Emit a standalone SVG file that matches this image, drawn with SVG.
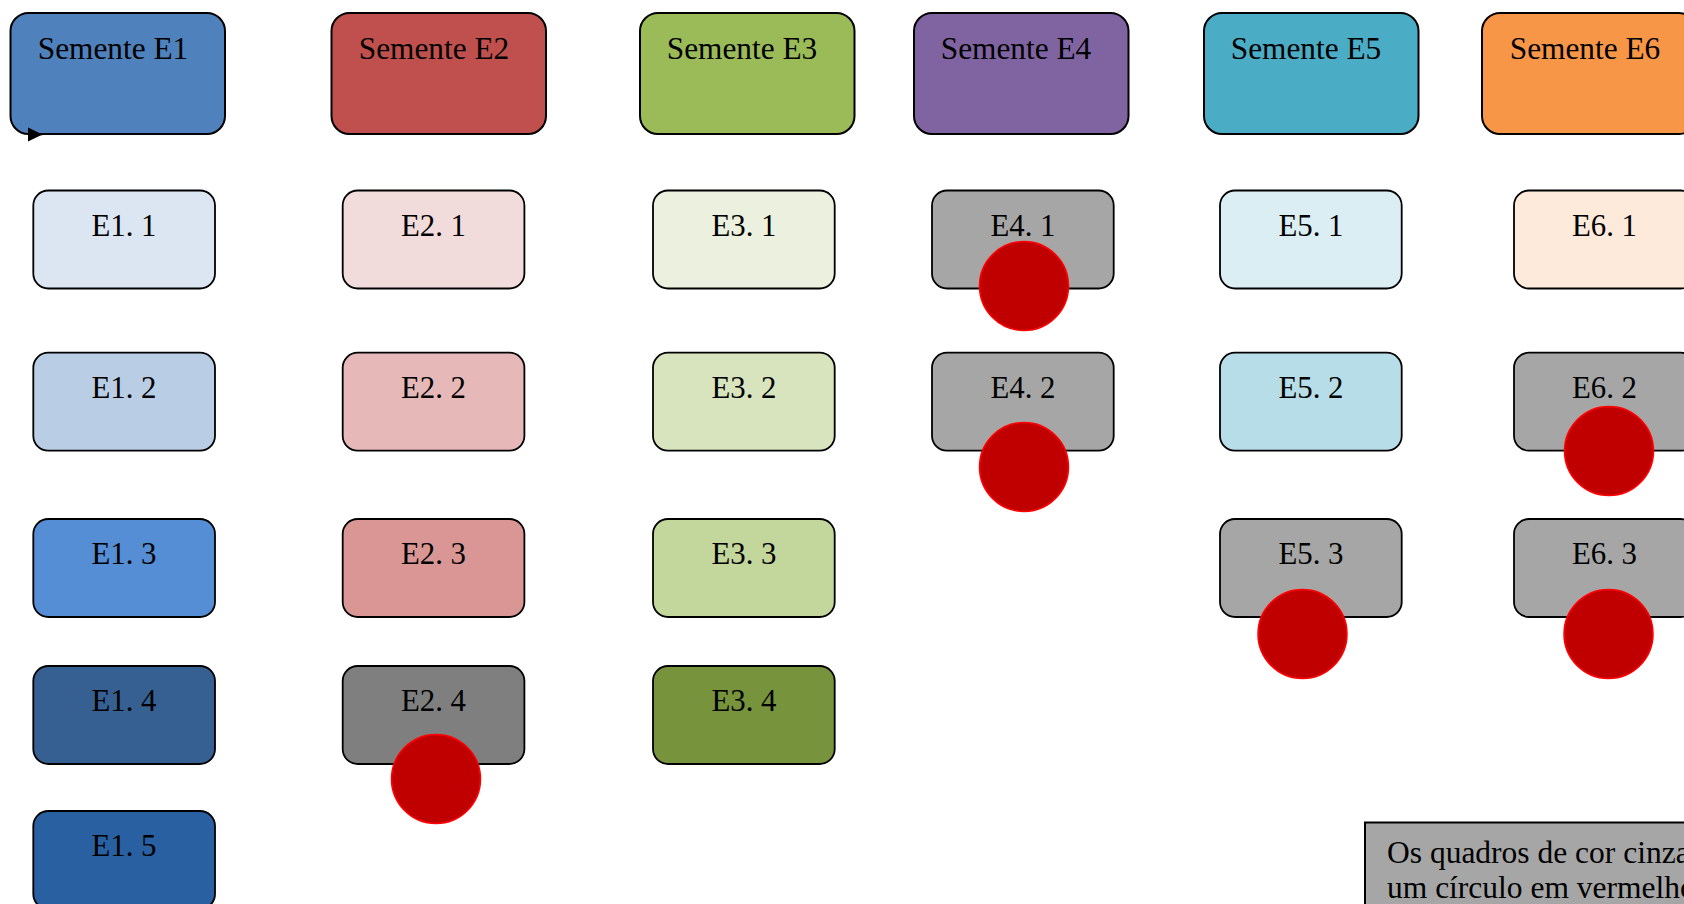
<svg xmlns="http://www.w3.org/2000/svg" width="1684" height="904" viewBox="0 0 1684 904">
  <style>
    .head { stroke: #000; stroke-width: 2; }
    .item { stroke: #000; stroke-width: 1.8; }
    .mark { fill: #C00000; stroke: #FF0000; stroke-width: 1.5; }
    .ht { font-family: "Liberation Serif", "Times New Roman", serif; font-size: 31.3px; fill: #000; text-anchor: middle; }
    .it { font-family: "Liberation Serif", "Times New Roman", serif; font-size: 30.8px; fill: #000; text-anchor: middle; }
    .note { font-family: "Liberation Serif", "Times New Roman", serif; font-size: 31.5px; fill: #000; }
    .conn { stroke: #000; stroke-width: 1.5; fill: none; }
  </style>
  <defs>
    <marker id="tri" markerUnits="userSpaceOnUse" markerWidth="16" markerHeight="16" refX="15" refY="7.25" orient="auto">
      <path d="M0,0 L15,7.25 L0,14.5 z" fill="#000"/>
    </marker>
  </defs>
  <rect width="1684" height="904" fill="#fff"/>

  <!-- seed headers -->
  <g id="semente-e1"><rect class="head" x="10.5" y="13" width="214.5" height="121" rx="18" fill="#4F81BD"/><text class="ht" x="113" y="59">Semente E1</text></g>
  <g id="semente-e2"><rect class="head" x="331.5" y="13" width="214.5" height="121" rx="18" fill="#C0504D"/><text class="ht" x="434" y="59">Semente E2</text></g>
  <g id="semente-e3"><rect class="head" x="640" y="13" width="214.5" height="121" rx="18" fill="#9BBB59"/><text class="ht" x="742" y="59">Semente E3</text></g>
  <g id="semente-e4"><rect class="head" x="914" y="13" width="214.5" height="121" rx="18" fill="#8064A2"/><text class="ht" x="1016" y="59">Semente E4</text></g>
  <g id="semente-e5"><rect class="head" x="1204" y="13" width="214.5" height="121" rx="18" fill="#4BACC6"/><text class="ht" x="1306" y="59">Semente E5</text></g>
  <g id="semente-e6"><rect class="head" x="1482" y="13" width="214.5" height="121" rx="18" fill="#F79646"/><text class="ht" x="1585" y="59">Semente E6</text></g>

  <!-- column E1 -->
  <g id="e1-1"><rect class="item" x="33.3" y="190.5" width="181.7" height="98" rx="15" fill="#DCE6F2"/><text class="it" x="124" y="235.5">E1. 1</text></g>
  <g id="e1-2"><rect class="item" x="33.3" y="352.7" width="181.7" height="98" rx="15" fill="#B9CDE5"/><text class="it" x="124" y="397.5">E1. 2</text></g>
  <g id="e1-3"><rect class="item" x="33.3" y="519" width="181.7" height="98" rx="15" fill="#558ED5"/><text class="it" x="124" y="564">E1. 3</text></g>
  <g id="e1-4"><rect class="item" x="33.3" y="666" width="181.7" height="98" rx="15" fill="#376092"/><text class="it" x="124" y="711">E1. 4</text></g>
  <g id="e1-5"><rect class="item" x="33.3" y="811" width="181.7" height="98" rx="15" fill="#2860A2"/><text class="it" x="124" y="856">E1. 5</text></g>

  <!-- column E2 -->
  <g id="e2-1"><rect class="item" x="342.7" y="190.5" width="181.7" height="98" rx="15" fill="#F2DCDB"/><text class="it" x="433.5" y="235.5">E2. 1</text></g>
  <g id="e2-2"><rect class="item" x="342.7" y="352.7" width="181.7" height="98" rx="15" fill="#E6B9B8"/><text class="it" x="433.5" y="397.5">E2. 2</text></g>
  <g id="e2-3"><rect class="item" x="342.7" y="519" width="181.7" height="98" rx="15" fill="#D99694"/><text class="it" x="433.5" y="564">E2. 3</text></g>
  <g id="e2-4"><rect class="item" x="342.7" y="666" width="181.7" height="98" rx="15" fill="#7F7F7F"/><text class="it" x="433.5" y="711">E2. 4</text><circle class="mark" cx="436" cy="779" r="44.5"/></g>

  <!-- column E3 -->
  <g id="e3-1"><rect class="item" x="653" y="190.5" width="181.7" height="98" rx="15" fill="#EBF1DE"/><text class="it" x="744" y="235.5">E3. 1</text></g>
  <g id="e3-2"><rect class="item" x="653" y="352.7" width="181.7" height="98" rx="15" fill="#D7E4BD"/><text class="it" x="744" y="397.5">E3. 2</text></g>
  <g id="e3-3"><rect class="item" x="653" y="519" width="181.7" height="98" rx="15" fill="#C3D69B"/><text class="it" x="744" y="564">E3. 3</text></g>
  <g id="e3-4"><rect class="item" x="653" y="666" width="181.7" height="98" rx="15" fill="#77933C"/><text class="it" x="744" y="711">E3. 4</text></g>

  <!-- column E4 -->
  <g id="e4-1"><rect class="item" x="932" y="190.5" width="181.7" height="98" rx="15" fill="#A6A6A6"/><text class="it" x="1023" y="235.5">E4. 1</text><circle class="mark" cx="1024" cy="286" r="44.5"/></g>
  <g id="e4-2"><rect class="item" x="932" y="352.7" width="181.7" height="98" rx="15" fill="#A6A6A6"/><text class="it" x="1023" y="397.5">E4. 2</text><circle class="mark" cx="1024" cy="467" r="44.5"/></g>

  <!-- column E5 -->
  <g id="e5-1"><rect class="item" x="1220" y="190.5" width="181.7" height="98" rx="15" fill="#DBEEF4"/><text class="it" x="1311" y="235.5">E5. 1</text></g>
  <g id="e5-2"><rect class="item" x="1220" y="352.7" width="181.7" height="98" rx="15" fill="#B7DEE8"/><text class="it" x="1311" y="397.5">E5. 2</text></g>
  <g id="e5-3"><rect class="item" x="1220" y="519" width="181.7" height="98" rx="15" fill="#A6A6A6"/><text class="it" x="1311" y="564">E5. 3</text><circle class="mark" cx="1302.5" cy="634" r="44.5"/></g>

  <!-- column E6 -->
  <g id="e6-1"><rect class="item" x="1514" y="190.5" width="181.7" height="98" rx="15" fill="#FDEADA"/><text class="it" x="1604.5" y="235.5">E6. 1</text></g>
  <g id="e6-2"><rect class="item" x="1514" y="352.7" width="181.7" height="98" rx="15" fill="#A6A6A6"/><text class="it" x="1604.5" y="397.5">E6. 2</text><circle class="mark" cx="1609" cy="451" r="44.5"/></g>
  <g id="e6-3"><rect class="item" x="1514" y="519" width="181.7" height="98" rx="15" fill="#A6A6A6"/><text class="it" x="1604.5" y="564">E6. 3</text><circle class="mark" cx="1608.5" cy="634" r="44.5"/></g>

  <!-- legend note -->
  <g id="legenda">
    <rect x="1365" y="822.5" width="340" height="100" fill="#A6A6A6" stroke="#000" stroke-width="2"/>
    <text class="note" x="1387" y="863">Os quadros de cor cinza</text>
    <text class="note" x="1387" y="898">um círculo em vermelho</text>
  </g>

  <!-- connectors -->
  <g id="connectors">
    <path class="conn" d="M 28 134.5 L 42.5 134.5" marker-end="url(#tri)"/>
  </g>
</svg>
